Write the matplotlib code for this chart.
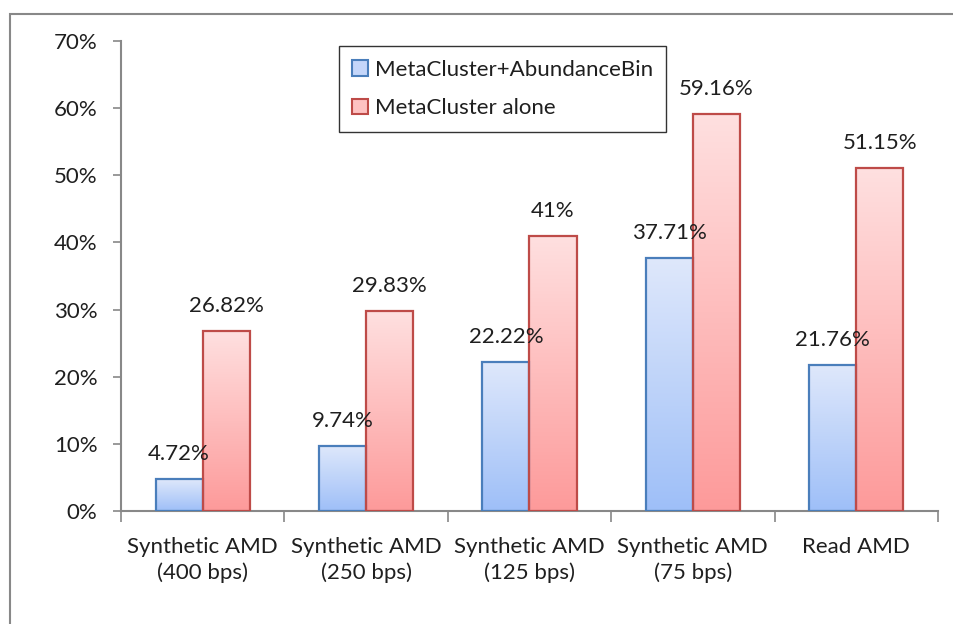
import numpy as np
import matplotlib
matplotlib.use("Agg")
import matplotlib.pyplot as plt
from matplotlib.colors import LinearSegmentedColormap
from matplotlib.patches import Patch, Rectangle

plt.rcParams['font.family'] = ['Lato', 'DejaVu Sans']

# ── data ──────────────────────────────────────────────────────────────
categories = ["Synthetic AMD\n(400 bps)", "Synthetic AMD\n(250 bps)",
              "Synthetic AMD\n(125 bps)", "Synthetic AMD\n(75 bps)",
              "Read AMD"]
combo_vals = [4.72, 9.74, 22.22, 37.71, 21.76]     # MetaCluster+AbundanceBin
alone_vals = [26.82, 29.83, 41, 59.16, 51.15]      # MetaCluster alone
combo_lbls = ["4.72%", "9.74%", "22.22%", "37.71%", "21.76%"]
alone_lbls = ["26.82%", "29.83%", "41%", "59.16%", "51.15%"]
series_names = ["MetaCluster+AbundanceBin", "MetaCluster alone"]

# ── styles ────────────────────────────────────────────────────────────
AXIS_GRAY = "#888888"
TEXT = "#1f1f1f"
FS = 16
BLUE_EDGE, RED_EDGE = "#4a7ebb", "#be4b48"
blue_cmap = LinearSegmentedColormap.from_list("b", ["#9ebff8", "#dfe8fb"])
red_cmap = LinearSegmentedColormap.from_list("r", ["#fd9a9a", "#ffe0e0"])
grad = np.linspace(0, 1, 256).reshape(-1, 1)

fig = plt.figure(figsize=(9.54, 6.24), dpi=100)
ax = fig.add_axes([0.1268, 0.1811, 0.8564, 0.7532])

# outer chart frame
fig.patches.append(Rectangle((10 / 954, -0.2), 1.2, (610 / 624) + 0.2,
                             transform=fig.transFigure, fill=False,
                             edgecolor=AXIS_GRAY, linewidth=1.5))

x = np.arange(len(categories))
w = 0.288

def gradient_bars(xpos, vals, cmap, edge):
    bars = ax.bar(xpos, vals, w, facecolor="none", edgecolor=edge,
                  linewidth=1.6, zorder=3)
    for b in bars:
        x0, y0 = b.get_x(), b.get_y()
        ax.imshow(grad, extent=[x0, x0 + b.get_width(), y0, y0 + b.get_height()],
                  origin="lower", cmap=cmap, aspect="auto", zorder=2)
    return bars

b1 = gradient_bars(x - w / 2, combo_vals, blue_cmap, BLUE_EDGE)
b2 = gradient_bars(x + w / 2, alone_vals, red_cmap, RED_EDGE)

for bars, lbls in ((b1, combo_lbls), (b2, alone_lbls)):
    for b, s in zip(bars, lbls):
        ax.annotate(s, (b.get_x() + b.get_width() / 2, b.get_height()),
                    xytext=(0, 18), textcoords="offset points",
                    ha="center", va="center", fontsize=FS, color=TEXT, zorder=5)

ax.set_xlim(-0.5, len(categories) - 0.5)
ax.set_ylim(0, 70)
ax.set_yticks(np.arange(0, 71, 10))
ax.set_yticklabels([f"{v}%" for v in range(0, 71, 10)])
ax.set_xticks(x)
ax.set_xticklabels(categories, linespacing=1.3)
ax.tick_params(axis="x", length=0, pad=19, labelsize=FS, labelcolor=TEXT)
ax.set_xticks(np.arange(-0.5, len(categories)), minor=True)
ax.tick_params(axis="x", which="minor", length=8, width=1.2, color=AXIS_GRAY, direction="out")
ax.tick_params(axis="y", length=6, width=1.2, color=AXIS_GRAY, pad=11,
               labelsize=FS, labelcolor=TEXT)

for s in ("top", "right"):
    ax.spines[s].set_visible(False)
for s in ("left", "bottom"):
    ax.spines[s].set_color(AXIS_GRAY)
    ax.spines[s].set_linewidth(1.5)

handles = [Patch(facecolor="#c4d6fa", edgecolor=BLUE_EDGE, linewidth=1.5),
           Patch(facecolor="#fec2c2", edgecolor=RED_EDGE, linewidth=1.5)]
leg = ax.legend(handles, series_names, loc="upper left",
                bbox_to_anchor=(0.267, 0.989), borderaxespad=0, fontsize=16,
                frameon=True, fancybox=False, edgecolor="black",
                handlelength=0.7, handleheight=0.7, handletextpad=0.3,
                labelspacing=0.85, borderpad=0.6, labelcolor=TEXT)
leg.get_frame().set_linewidth(1.0)

fig.savefig("out.png", dpi=100)
